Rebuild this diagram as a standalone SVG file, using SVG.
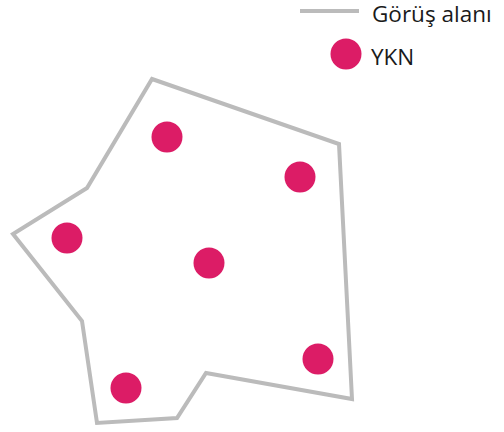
<svg xmlns="http://www.w3.org/2000/svg" width="504" height="432" viewBox="0 0 504 432">
<style>
.area{fill:none;stroke:#bbbbbb;stroke-width:4;stroke-linejoin:miter}
.ykn{fill:#dc1c66}
.lbl{font-family:"Open Sans","Noto Sans",sans-serif;font-size:22.5px;fill:#1a1a1a}
</style>
<rect width="504" height="432" fill="#ffffff"/>
<g id="legend">
<line x1="300" y1="11" x2="359" y2="11" stroke="#bbbbbb" stroke-width="4"/>
<text class="lbl" x="372" y="22">Görüş alanı</text>
<circle class="ykn" cx="346" cy="54" r="15.5"/>
<text class="lbl" x="371" y="65">YKN</text>
</g>
<g id="area">
<polygon class="area" points="152,79 339,144 352,399 206,373 177,418 97,423 82,321 13,234 87,188"/>
</g>
<g id="points">
<circle id="p1" class="ykn" cx="167" cy="137" r="15.5"/>
<circle id="p2" class="ykn" cx="300" cy="177" r="15.5"/>
<circle id="p3" class="ykn" cx="67" cy="238" r="15.5"/>
<circle id="p4" class="ykn" cx="209" cy="263" r="15.5"/>
<circle id="p5" class="ykn" cx="318" cy="359" r="15.5"/>
<circle id="p6" class="ykn" cx="126" cy="388" r="15.5"/>
</g>
</svg>
